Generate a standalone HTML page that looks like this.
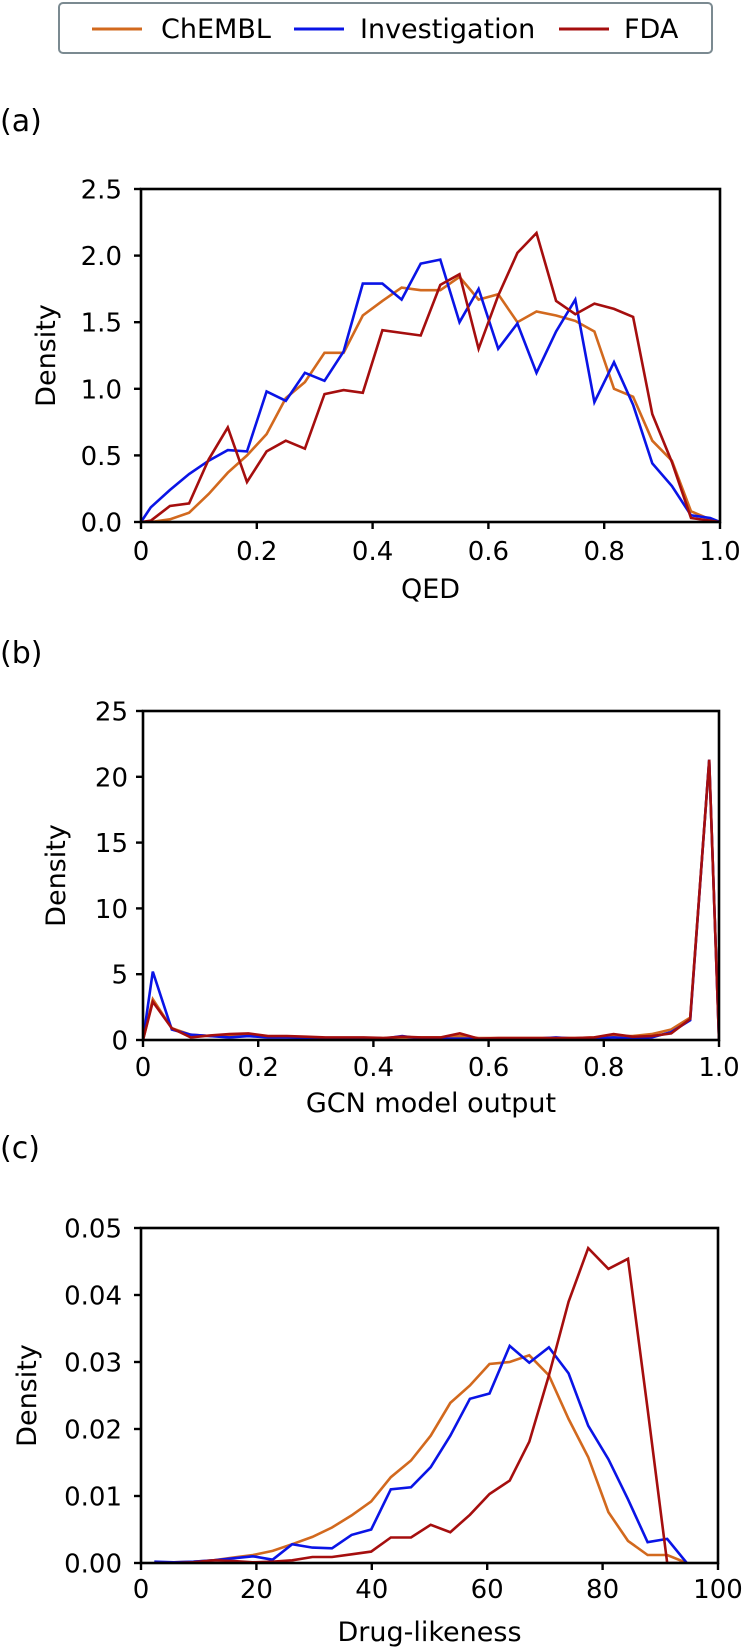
<!DOCTYPE html>
<html><head><meta charset="utf-8">
<style>
html,body{margin:0;padding:0;background:#fff;}
body{width:744px;height:1651px;overflow:hidden;position:relative;font-family:"DejaVu Sans","Liberation Sans",sans-serif;}
svg{position:absolute;left:0;top:0;}
</style></head>
<body>
<svg id="fig" width="744" height="1651" viewBox="0 0 744 1651" xmlns="http://www.w3.org/2000/svg">
  <g>
    <rect x="59" y="3" width="653" height="50" rx="4" fill="#fff" stroke="#7b8a91" stroke-width="2"/>
    <line x1="92" y1="29" x2="142" y2="29" stroke="#d2691e" stroke-width="3"/>
    <text x="161" y="38" font-size="27" fill="#000">ChEMBL</text>
    <line x1="294" y1="29" x2="344" y2="29" stroke="#0a14e6" stroke-width="3"/>
    <text x="360" y="38" font-size="27" fill="#000">Investigation</text>
    <line x1="559" y1="29" x2="609" y2="29" stroke="#a50e0e" stroke-width="3"/>
    <text x="624" y="38" font-size="27" fill="#000">FDA</text>
  </g>
</svg>
<script>
// ---------- data ----------
const binsA = [0.017,0.05,0.083,0.117,0.15,0.183,0.217,0.25,0.283,0.317,0.35,0.383,0.417,0.45,0.483,0.517,0.55,0.583,0.617,0.65,0.683,0.717,0.75,0.783,0.817,0.85,0.883,0.917,0.95,0.983];
const qedChembl = [0.0,0.02,0.07,0.21,0.37,0.50,0.66,0.93,1.05,1.27,1.27,1.55,1.66,1.76,1.74,1.74,1.84,1.67,1.71,1.50,1.58,1.55,1.51,1.43,1.00,0.94,0.61,0.46,0.08,0.02];
const qedInvest = [0.11,0.24,0.36,0.46,0.54,0.53,0.98,0.91,1.12,1.06,1.28,1.79,1.79,1.67,1.94,1.97,1.50,1.75,1.30,1.49,1.12,1.43,1.67,0.90,1.20,0.88,0.44,0.27,0.05,0.03];
const qedFda = [0.01,0.12,0.14,0.47,0.71,0.30,0.53,0.61,0.55,0.96,0.99,0.97,1.44,1.42,1.40,1.78,1.86,1.30,1.70,2.02,2.17,1.66,1.56,1.64,1.60,1.54,0.81,0.45,0.03,0.01];
const gcnChembl = [3.1,0.9,0.4,0.3,0.35,0.4,0.25,0.25,0.2,0.15,0.15,0.15,0.15,0.2,0.2,0.2,0.3,0.15,0.15,0.15,0.15,0.15,0.15,0.2,0.3,0.3,0.45,0.8,1.7,21.2];
const gcnInvest = [5.2,0.8,0.4,0.3,0.2,0.3,0.2,0.2,0.15,0.1,0.1,0.1,0.1,0.3,0.1,0.1,0.1,0.1,0.1,0.1,0.1,0.2,0.1,0.1,0.2,0.1,0.2,0.6,1.5,21.3];
const gcnFda = [2.9,0.9,0.2,0.35,0.45,0.5,0.3,0.3,0.25,0.2,0.2,0.2,0.15,0.25,0.2,0.2,0.5,0.1,0.15,0.15,0.15,0.15,0.15,0.2,0.45,0.25,0.3,0.5,1.6,21.3];
const binsC = [2.3,5.7,9.1,12.6,16.0,19.4,22.8,26.2,29.7,33.1,36.5,39.9,43.3,46.8,50.2,53.6,57.0,60.4,63.9,67.3,70.7,74.1,77.5,81.0,84.4,87.8,91.2,94.6];
const dlChembl = [0,0.0001,0.0002,0.0004,0.0008,0.0012,0.0018,0.0028,0.0039,0.0053,0.0071,0.0092,0.0128,0.0153,0.019,0.0239,0.0265,0.0297,0.030,0.031,0.028,0.0215,0.0158,0.0076,0.0033,0.0012,0.0012,0];
const dlInvest = [0.0002,0.0001,0.0002,0.0004,0.0007,0.001,0.0005,0.0028,0.0023,0.0022,0.0042,0.005,0.011,0.0113,0.0143,0.019,0.0245,0.0253,0.0324,0.0299,0.0322,0.0283,0.0205,0.0155,0.0095,0.0031,0.0036,0];
const dlFda = [0,0,0.0001,0.0004,0.0003,0.0001,0.0002,0.0004,0.0009,0.0009,0.0013,0.0017,0.0038,0.0038,0.0057,0.0046,0.0072,0.0103,0.0123,0.0181,0.028,0.039,0.047,0.0439,0.0454,0.023,0,0];
const ticksA_x = ["0","0.2","0.4","0.6","0.8","1.0"];
const ticksA_y = ["0.0","0.5","1.0","1.5","2.0","2.5"];
const ticksB_y = ["0","5","10","15","20","25"];
const ticksC_x = ["0","20","40","60","80","100"];
const ticksC_y = ["0.00","0.01","0.02","0.03","0.04","0.05"];

const NS = "http://www.w3.org/2000/svg";
const svg = document.getElementById('fig');
const COLORS = {chembl:"#d2691e", invest:"#0a14e6", fda:"#a50e0e"};

function mk(tag, attrs, parent){
  const e = document.createElementNS(NS, tag);
  for (const k in attrs) e.setAttribute(k, attrs[k]);
  parent.appendChild(e);
  return e;
}

function panel(cfg){
  const g = mk('g', {}, svg);
  
  
  const L=cfg.L,R=cfg.R,T=cfg.T,B=cfg.B;
  const xs = v => L + (v - cfg.xmin)/(cfg.xmax - cfg.xmin)*(R-L);
  const ys = v => B - (v - cfg.ymin)/(cfg.ymax - cfg.ymin)*(B-T);
  const defs = svg.querySelector('defs') || mk('defs', {}, svg);
  const cp = mk('clipPath', {id:'clip-'+cfg.name}, defs);
  mk('rect', {x:L, y:T, width:R-L, height:B-T}, cp);
  cfg.series.forEach(s => {
    let pts = [];
    if (cfg.padEnds) pts.push([xs(cfg.xmin), ys(0)]);
    s.vals.forEach((v,i) => pts.push([xs(cfg.xv[i]), ys(v)]));
    if (cfg.padEnds) pts.push([xs(cfg.xmax), ys(0)]);
    const p = mk('polyline', {points: pts.map(q=>q[0].toFixed(1)+','+q[1].toFixed(1)).join(' '),
      fill:'none', stroke:s.color, 'stroke-width':2.6, 'stroke-linejoin':'miter', 'clip-path':'url(#clip-'+cfg.name+')'}, g);
    
    
  });
  const fr = mk('rect', {x:L, y:T, width:R-L, height:B-T, fill:'none', stroke:'#000', 'stroke-width':2.6}, g);
  
  
  cfg.xt.forEach((lab,i) => {
    const x = L + i/(cfg.xt.length-1)*(R-L);
    mk('line', {x1:x, y1:B, x2:x, y2:B+7, stroke:'#000', 'stroke-width':2.4}, g);
    const t = mk('text', {x:x, y:cfg.xtY, 'font-size':26, 'text-anchor':'middle', fill:'#000'}, g);
    t.textContent = lab;
    
    
  });
  cfg.yt.forEach((lab,i) => {
    const y = B - i/(cfg.yt.length-1)*(B-T);
    mk('line', {x1:L-7, y1:y, x2:L, y2:y, stroke:'#000', 'stroke-width':2.4}, g);
    const t = mk('text', {x:cfg.ytX, y:y+9.5, 'font-size':26, 'text-anchor':'end', fill:'#000'}, g);
    t.textContent = lab;
    
    
  });
  const xl = mk('text', {x:(L+R)/2, y:cfg.xlY, 'font-size':27, 'text-anchor':'middle', fill:'#000'}, g);
  xl.textContent = cfg.xlabel;
  
  
  const yl = mk('text', {x:0, y:0, 'font-size':27, 'text-anchor':'middle', fill:'#000',
    transform:'translate('+cfg.ylX+','+((T+B)/2)+') rotate(-90)'}, g);
  yl.textContent = 'Density';
  
  
  const pl = mk('text', {x:0, y:cfg.plY, 'font-size':30, fill:'#000'}, g);
  pl.textContent = cfg.plabel;
  
  
}

panel({name:'panel-a-qed', L:141,R:720,T:189,B:522, xmin:0,xmax:1,ymin:0,ymax:2.5, xv:binsA, padEnds:true,
  series:[{name:'chembl-line',color:COLORS.chembl,vals:qedChembl},{name:'investigation-line',color:COLORS.invest,vals:qedInvest},{name:'fda-line',color:COLORS.fda,vals:qedFda}],
  xt:ticksA_x, yt:ticksA_y, xtY:560, ytX:122, xlabel:'QED', xlY:598, ylX:55, plabel:'(a)', plY:131});

panel({name:'panel-b-gcn', L:143,R:719,T:711,B:1040, xmin:0,xmax:1,ymin:0,ymax:25, xv:binsA, padEnds:true,
  series:[{name:'chembl-line',color:COLORS.chembl,vals:gcnChembl},{name:'investigation-line',color:COLORS.invest,vals:gcnInvest},{name:'fda-line',color:COLORS.fda,vals:gcnFda}],
  xt:ticksA_x, yt:ticksB_y, xtY:1076, ytX:128, xlabel:'GCN model output', xlY:1112, ylX:65, plabel:'(b)', plY:663});

panel({name:'panel-c-druglikeness', L:141,R:718,T:1228,B:1563, xmin:0,xmax:100,ymin:0,ymax:0.05, xv:binsC, padEnds:false,
  series:[{name:'chembl-line',color:COLORS.chembl,vals:dlChembl},{name:'investigation-line',color:COLORS.invest,vals:dlInvest},{name:'fda-line',color:COLORS.fda,vals:dlFda}],
  xt:ticksC_x, yt:ticksC_y, xtY:1598, ytX:122, xlabel:'Drug-likeness', xlY:1641, ylX:36, plabel:'(c)', plY:1158});
</script>
</body></html>
